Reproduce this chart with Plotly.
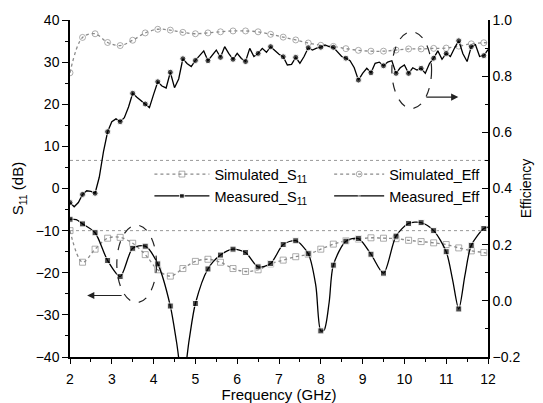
import plotly.graph_objects as go

# ---------------- data ----------------
sim_s11_f = [2.0, 2.3, 2.6, 2.9, 3.2, 3.5, 3.8, 4.1, 4.4, 4.7, 5.0, 5.3, 5.6, 5.9, 6.2, 6.5, 6.8,
             7.1, 7.4, 7.7, 8.0, 8.3, 8.6, 8.9, 9.2, 9.5, 9.8, 10.1, 10.4, 10.7, 11.0, 11.3, 11.6, 11.9, 12.0]
sim_s11 = [-10.0, -17.5, -14.4, -11.8, -11.6, -13.0, -15.7, -19.3, -20.8, -19.0, -17.3, -16.8, -17.5,
           -19.0, -19.7, -19.3, -17.9, -17.0, -16.2, -15.6, -14.4, -13.2, -12.4, -12.0, -11.7, -11.8,
           -11.9, -12.3, -12.6, -12.9, -13.3, -14.1, -14.8, -15.2, -15.4]

meas_s11_f = [2.0, 2.15, 2.3, 2.6, 2.9, 3.2, 3.5, 3.8, 4.1, 4.4, 4.55, 4.7, 4.85, 5.0, 5.3, 5.6, 5.9, 6.2,
              6.5, 6.8, 7.1, 7.4, 7.7, 7.88, 8.0, 8.08, 8.2, 8.3, 8.6, 8.9, 9.2, 9.5, 9.8, 10.1, 10.4,
              10.7, 11.0, 11.15, 11.3, 11.45, 11.6, 11.9, 12.0]
meas_s11 = [-7.3, -7.4, -8.4, -10.5, -17.1, -20.9, -14.2, -13.7, -17.9, -27.9, -36.5, -46.0, -36.0,
            -27.3, -19.1, -15.8, -14.4, -15.2, -18.6, -17.8, -13.3, -12.4, -15.5, -23.0, -33.8,
            -33.6, -27.0, -18.2, -12.5, -11.9, -15.6, -20.1, -11.3, -8.3, -8.1, -10.0, -15.0, -21.5,
            -28.6, -20.5, -13.5, -9.5, -9.2]

sim_eff_f = sim_s11_f
sim_eff = [0.812, 0.938, 0.951, 0.920, 0.909, 0.928, 0.954, 0.967, 0.964, 0.956, 0.951, 0.954, 0.958,
           0.961, 0.961, 0.958, 0.949, 0.939, 0.929, 0.918, 0.910, 0.906, 0.898, 0.892, 0.889, 0.889,
           0.893, 0.897, 0.897, 0.899, 0.900, 0.907, 0.915, 0.919, 0.920]

meas_eff_f = [round(2.0 + 0.1 * i, 1) for i in range(101)]
meas_eff = [0.350, 0.335, 0.350, 0.379, 0.392, 0.390, 0.383, 0.440, 0.530, 0.602,
            0.638, 0.648, 0.638, 0.652, 0.690, 0.739, 0.725, 0.712, 0.701, 0.688,
            0.735, 0.780, 0.765, 0.758, 0.814, 0.759, 0.790, 0.862, 0.845, 0.834,
            0.856, 0.875, 0.890, 0.855, 0.875, 0.893, 0.867, 0.905, 0.880, 0.860,
            0.881, 0.863, 0.852, 0.899, 0.870, 0.881, 0.899, 0.885, 0.905, 0.890,
            0.878, 0.869, 0.840, 0.842, 0.867, 0.846, 0.870, 0.901, 0.893, 0.900,
            0.903, 0.911, 0.905, 0.903, 0.885, 0.870, 0.864, 0.855, 0.830, 0.786,
            0.810, 0.828, 0.812, 0.846, 0.850, 0.837, 0.850, 0.855, 0.810, 0.830,
            0.840, 0.810, 0.830, 0.822, 0.828, 0.810, 0.845, 0.864, 0.890, 0.860,
            0.881, 0.870, 0.900, 0.926, 0.880, 0.852, 0.905, 0.912, 0.870, 0.873,
            0.895]

# ---------------- styling ----------------
FONT = "Arial, Liberation Sans, sans-serif"
GREY = "#8a8a8a"


def on_grid(f):
    k = (f - 2.0) / 0.3
    return abs(k - round(k)) < 1e-6


fig = go.Figure()

fig.add_trace(go.Scatter(
    x=sim_s11_f, y=sim_s11, name="Simulated_S<sub>11</sub>", mode="lines+markers",
    line=dict(color=GREY, width=1.3, dash="dot", shape="spline"),
    marker=dict(symbol="square-open", size=[6 if on_grid(f) else 0 for f in sim_s11_f], color=GREY,
                line=dict(width=1)),
    legend="legend"))
fig.add_trace(go.Scatter(
    x=meas_s11_f, y=meas_s11, name="Measured_S<sub>11</sub>", mode="lines+markers",
    line=dict(color="black", width=1.3, shape="spline", smoothing=0.8),
    marker=dict(symbol="square", size=[6 if on_grid(f) else 0 for f in meas_s11_f], color="black"),
    legend="legend"))
fig.add_trace(go.Scatter(
    x=sim_eff_f, y=sim_eff, name="Simulated_Eff", mode="lines+markers", yaxis="y2",
    line=dict(color=GREY, width=1.3, dash="dot", shape="spline"),
    marker=dict(symbol="circle-open", size=[6 if on_grid(f) else 0 for f in sim_eff_f], color=GREY,
                line=dict(width=1)),
    legend="legend2"))
fig.add_trace(go.Scatter(
    x=meas_eff_f, y=meas_eff, name="Measured_Eff", mode="lines+markers", yaxis="y2",
    line=dict(color="black", width=1.3),
    marker=dict(symbol="circle", size=[6 if i % 3 == 0 else 0 for i in range(len(meas_eff_f))],
                color="black"),
    legend="legend2"))

axis_common = dict(showline=True, linecolor="black", linewidth=1.5, showgrid=False, zeroline=False,
                   automargin=False,
                   tickfont=dict(family=FONT, size=14, color="black"), tickcolor="black")

fig.update_layout(
    width=535, height=395,
    margin=dict(l=62, r=55, t=12, b=46),
    paper_bgcolor="white", plot_bgcolor="white",
    font=dict(family=FONT, color="black"),
    xaxis=dict(range=[2, 12], dtick=1, ticks="outside", ticklen=5, tickwidth=1.3,
               ticklabelstandoff=3,
               minor=dict(dtick=0.5, ticks="outside", ticklen=3, tickcolor="black"),
               title=dict(text="Frequency (GHz)", font=dict(family=FONT, size=15), standoff=10),
               **axis_common),
    xaxis2=dict(range=[2, 12], overlaying="x", side="top", tickvals=[4, 6, 8, 10], ticks="inside",
                ticklen=6, tickwidth=1.3, showticklabels=False, showline=True, linecolor="black",
                linewidth=1.5, showgrid=False, zeroline=False, tickcolor="black", automargin=False),
    yaxis=dict(range=[-40, 40], dtick=10, ticks="outside", ticklen=6, tickwidth=1.3,
               minor=dict(dtick=5, ticks="outside", ticklen=3, tickcolor="black"),
               title=dict(text="S<sub>11</sub> (dB)", font=dict(family=FONT, size=15), standoff=8),
               **axis_common),
    yaxis2=dict(range=[-0.2, 1.0], dtick=0.2, tickformat=".1f", overlaying="y", side="right",
                ticks="inside", ticklen=6, tickwidth=1.3,
                minor=dict(dtick=0.1, ticks="inside", ticklen=3, tickcolor="black"),
                title=dict(text="Efficiency", font=dict(family=FONT, size=14), standoff=2),
                **axis_common),
    legend=dict(x=0.19, y=0.59, xanchor="left", yanchor="top", bgcolor="rgba(0,0,0,0)",
                font=dict(family=FONT, size=14.5), tracegroupgap=0, itemwidth=55),
    legend2=dict(x=0.62, y=0.59, xanchor="left", yanchor="top", bgcolor="rgba(0,0,0,0)",
                 font=dict(family=FONT, size=14.5), tracegroupgap=0, itemwidth=50),
    showlegend=True,
)

# reference lines (-10 dB, 0.5 efficiency)
fig.add_shape(type="line", xref="paper", x0=0, x1=1, yref="y", y0=-10, y1=-10,
              line=dict(color="#999999", width=1, dash="dot"), layer="below")
fig.add_shape(type="line", xref="paper", x0=0, x1=1, yref="y2", y0=0.5, y1=0.5,
              line=dict(color="#999999", width=1, dash="dot"), layer="below")

# dashed ellipses
fig.add_shape(type="circle", xref="x", yref="y", x0=3.12, x1=4.07, y0=-27.1, y1=-8.7,
              line=dict(color="#222222", width=1.2, dash="dash"))
fig.add_shape(type="circle", xref="x", yref="y", x0=9.7, x1=10.65, y0=19.0, y1=37.2,
              line=dict(color="#222222", width=1.2, dash="dash"))

# arrows
fig.add_annotation(x=2.41, y=-25.4, ax=3.27, ay=-25.4, xref="x", yref="y", axref="x", ayref="y",
                   showarrow=True, arrowhead=2, arrowsize=1.2, arrowwidth=1.2, arrowcolor="#222222",
                   text="")
fig.add_annotation(x=11.29, y=21.7, ax=10.49, ay=21.7, xref="x", yref="y", axref="x", ayref="y",
                   showarrow=True, arrowhead=2, arrowsize=1.2, arrowwidth=1.2, arrowcolor="#222222",
                   text="")

fig.write_html("out.html")
